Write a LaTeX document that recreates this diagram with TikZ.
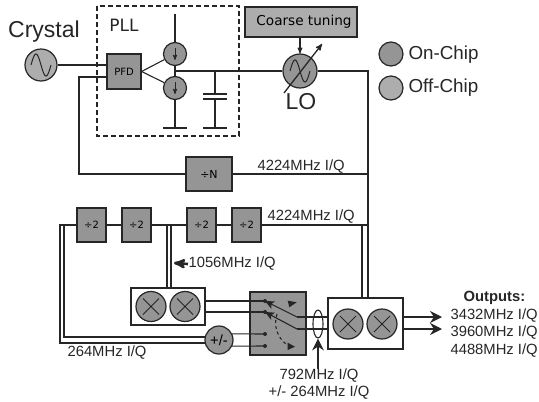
\documentclass[tikz,border=0pt]{standalone}
\usepackage{fontspec}
\setmainfont{Liberation Sans}
\newfontfamily\boxfont{DejaVu Sans}
\usetikzlibrary{arrows, arrows.meta, shapes.geometric}
\definecolor{onchip}{HTML}{959595}
\definecolor{offchip}{HTML}{ADADAD}
\definecolor{ink}{HTML}{262626}
\tikzset{
  lbl/.style={inner sep=0pt, text=ink, font=\fontsize{14.8}{17}\selectfont},
  bigl/.style={inner sep=0pt, text=ink, font=\fontsize{23}{25}\selectfont},
  keyl/.style={inner sep=0pt, text=ink, anchor=west, font=\fontsize{18.8}{20}\selectfont},
  blockbox/.style={draw=ink, fill=onchip, rectangle, inner sep=0pt, line width=1.2pt, font=\boxfont\fontsize{10}{12}\selectfont},
  divbox/.style={blockbox, minimum width=29pt, minimum height=34pt},
  blob/.style={draw=ink, circle, inner sep=0pt, line width=1.2pt},
  wave/.style={path picture={\draw[shift={(path picture bounding box.center)}, line width=1pt]
      plot[domain=-10:10, samples=41, smooth] ({\x}, {11*sin(18*\x)});}},
  mixer/.style={blob, fill=onchip, minimum size=30pt, path picture={
      \draw[line width=.9pt, shift={(path picture bounding box.center)}] (-8,-8) -- (8,8) (-8,8) -- (8,-8);}},
  source/.style={blob, fill=onchip, minimum size=23pt, path picture={
      \draw[->, >=stealth', line width=.9pt, shift={(path picture bounding box.center)}] (0,-6) -- (0,6);}},
  whitebox/.style={draw=ink, fill=white, rectangle, line width=1.2pt, inner sep=0pt},
  bigtip/.style={-{Stealth[length=12pt, width=12pt, inset=4pt]}},
  armtip/.style={-{Stealth[length=9pt, width=8pt, inset=2pt]}}
}
\begin{document}
\begin{tikzpicture}[x=1pt, y=-1pt, >=stealth', line width=1.1pt, draw=ink, node distance=45pt]
    \useasboundingbox (0,0) rectangle (539,402);

    \node[bigl] (crystallbl) at (44,32) {Crystal};
    \node[blob, fill=offchip, wave, minimum size=32pt] (crystal) at (41,65) {};
    \node[blockbox, minimum width=34pt, minimum height=35pt] (pfd) at (124,71.5) {PFD};
    \node[source] (srcup) at (175,54) {};
    \node[source] (srcdn) at (175,88) {};
    \node[inner sep=0pt, text=ink, font=\boxfont\fontsize{17}{19}\selectfont] (plllbl) at (124,25) {PLL};
    \node[blockbox, fill=offchip, minimum width=112pt, minimum height=30pt, font=\boxfont\fontsize{13.6}{15}\selectfont] (coarse) at (301,22) {\hspace{6pt}Coarse tuning};
    \node[blob, fill=onchip, wave, minimum size=34pt] (lo) at (300,71) {};
    \node[bigl] (lolbl) at (301,102) {LO};
    \node[blob, fill=onchip, minimum size=24pt] (keyon) at (391,54) {};
    \node[blob, fill=offchip, minimum size=24pt] (keyoff) at (391,88) {};
    \node[keyl] (keyonlbl) at (408,55) {On-Chip};
    \node[keyl] (keyofflbl) at (408,88) {Off-Chip};

    \node[blockbox, minimum width=46pt, minimum height=34pt, font=\boxfont\fontsize{11}{13}\selectfont] (divn) at (209,174) {÷N};
    \node[lbl, anchor=west] (lbln) at (257,167) {4224MHz I/Q};

    \node[divbox] (diva) at (91.5,225) {÷2};
    \node[divbox] (divb) [right of=diva] {÷2};
    \node[divbox] (divc) at (201.5,225) {÷2};
    \node[divbox] (divd) [right of=divc] {÷2};
    \node[lbl, anchor=west] (lbltop) at (267,217) {4224MHz I/Q};
    \node[lbl, anchor=west] (lblmid) at (188,264) {1056MHz I/Q};
    \node[lbl, anchor=west] (lbllow) at (67,353) {264MHz I/Q};

    \node[whitebox, minimum width=74pt, minimum height=37pt] (mixboxa) at (168,306.5) {};
    \node[mixer] (mixa) at (151,306.5) {};
    \node[mixer, node distance=34pt] (mixb) [right of=mixa] {};
    \node[blob, fill=onchip, minimum size=28pt, font=\fontsize{14.8}{17}\selectfont] (pm) at (219,340) {+/-};

    \node[blockbox, minimum width=56pt, minimum height=63pt] (switch) at (278,323.5) {};
    \node[whitebox, minimum width=75pt, minimum height=51pt] (mixboxb) at (365.5,323.5) {};
    \node[mixer] (mixc) at (348,324) {};
    \node[mixer, node distance=34pt] (mixd) [right of=mixc] {};
    \node[draw=ink, ellipse, inner sep=0pt, minimum width=10pt, minimum height=28pt] (ring) at (318,324) {};
    \node[lbl, align=center] (lblring) at (319,384.5) {792MHz I/Q\\+/- 264MHz I/Q};

    \node[lbl, anchor=west, font=\bfseries\fontsize{14.8}{17}\selectfont] (lblout) at (463,298) {Outputs:};
    \node[lbl, anchor=west] (lbloa) at (450,316) {3432MHz I/Q};
    \node[lbl, anchor=west] (lblob) at (450,333) {3960MHz I/Q};
    \node[lbl, anchor=west] (lbloc) at (450,351) {4488MHz I/Q};

    \coordinate (fbtop) at (79,77);
    \coordinate (fbbot) at (79,174);
    \coordinate (vdd) at (175,14);
    \coordinate (tune) at (175,71);
    \coordinate (gnda) at (175,128);
    \coordinate (captop) at (215,71);
    \coordinate (capa) at (215,94);
    \coordinate (capb) at (215,99);
    \coordinate (gndb) at (215,128);
    \coordinate (loright) at (368,71);
    \coordinate (tapn) at (368,174);
    \coordinate (tapq) at (362,225);
    \coordinate (tapi) at (368,225);
    \coordinate (lefti) at (60,225);
    \coordinate (leftq) at (64,225);
    \coordinate (midi) at (167,225);
    \coordinate (midq) at (171,225);
    \coordinate (inua) at (265,301);
    \coordinate (inub) at (265,312);
    \coordinate (inuc) at (265,334);
    \coordinate (inud) at (265,346);
    \coordinate (armu) at (297,317);
    \coordinate (armd) at (297,329);
    \coordinate (outa) at (442,317);
    \coordinate (outb) at (442,329);
    \coordinate (swtop) at (277,314);
    \coordinate (swbot) at (286,344);
    \coordinate (arrowmid) at (174,263);

    \draw[dash pattern=on 5pt off 3pt, line width=1.2pt] (97,6) rectangle (239,136);

    \draw (crystal) -- (crystal -| pfd.west);
    \draw (pfd.west |- fbtop) -- (fbtop) -- (fbbot) -- (divn);
    \draw (pfd.east) -- (srcup);
    \draw (pfd.east) -- (srcdn);
    \draw (vdd) -- (srcup);
    \draw (srcup) -- (srcdn);
    \draw (srcdn) -- (gnda);
    \draw ([xshift=-12pt]gnda) -- ([xshift=12pt]gnda);
    \draw (tune) -- (lo);
    \draw (captop) -- (capa);
    \draw (capb) -- (gndb);
    \draw ([xshift=-12pt]capa) -- ([xshift=12pt]capa);
    \draw ([xshift=-12pt]capb) -- ([xshift=12pt]capb);
    \draw ([xshift=-12pt]gndb) -- ([xshift=12pt]gndb);
    \draw (lo) -- (loright) -- (loright |- mixboxb.north);
    \draw[->] (coarse.south -| lo) -- (lo.north);
    \draw[->, line width=1.3pt] (284,93) -- (322,44);
    \draw (divn) -- (tapn);
    \draw (divd) -- (tapi);
    \draw (tapq) -- (tapq |- mixboxb.north);

    \draw (diva) -- (divb);
    \draw (divb) -- (divc);
    \draw (divc) -- (divd);
    \draw (diva) -- (lefti) -- (lefti |- pm.192) -- (pm.192);
    \draw (leftq) -- (leftq |- pm.168) -- (pm.168);
    \draw (midi) -- (midi |- mixboxa.north);
    \draw (midq) -- (midq |- mixboxa.north);
    \draw[->, line width=2.6pt] (lblmid.west) -- (arrowmid);

    \draw (mixboxa.east |- inua) -- (inua);
    \draw (mixboxa.east |- inub) -- (inub);
    \draw (pm.25) -- (inuc);
    \draw (pm.-25) -- (inud);
    \fill[ink] (inua) circle (2) (inub) circle (2) (inuc) circle (2) (inud) circle (2);
    \draw[armtip] (armu) -- (inua);
    \draw[armtip] (armd) -- (inub);
    \draw (armu) -- (armu -| mixboxb.west);
    \draw (armd) -- (armd -| mixboxb.west);
    \draw[dashed] (swtop) .. controls (273,326) and (278,338) .. (swbot);
    \fill[ink] (287.7,300.7) -- (296.7,302.3) -- (289.3,307.3) -- cycle;
    \fill[ink] (287.7,342.7) -- (295,346.7) -- (287.7,350) -- cycle;

    \draw[bigtip] (lblring.north -| ring) -- (ring.south);
    \draw[bigtip] (mixboxb.east |- outa) -- (outa);
    \draw[bigtip] (mixboxb.east |- outb) -- (outb);
\end{tikzpicture}
\end{document}
